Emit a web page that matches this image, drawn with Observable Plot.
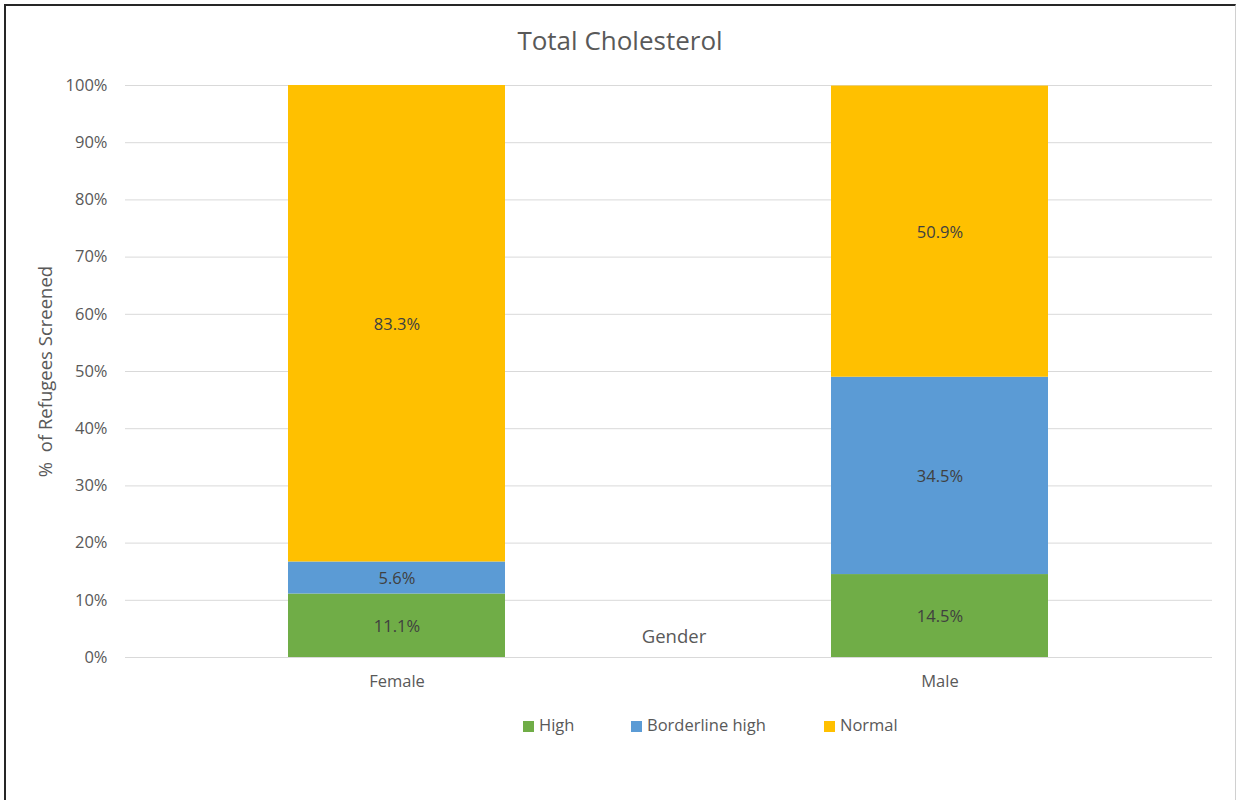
<!DOCTYPE html>
<html>
<head>
<meta charset="utf-8">
<script src="https://cdn.jsdelivr.net/npm/d3@7"></script>
<script src="https://cdn.jsdelivr.net/npm/@observablehq/plot@0.6"></script>
<style>
  html, body { margin: 0; padding: 0; background: #fff; }
  #chart { position: relative; width: 1236px; height: 800px; overflow: hidden; font-family: "Open Sans", sans-serif; color: #595959; }
  #chart svg { position: absolute; left: 0; top: 0; }
  #frame { position: absolute; left: 4px; top: 4px; width: 1229px; height: 820px;
           border-left: 2px solid #262626; border-top: 2px solid #262626; border-right: 1px solid #d0d0d0; pointer-events: none; }
  #title { position: absolute; left: 0; top: 21px; width: 1240px; text-align: center; font-size: 26px; line-height: 38px; color: #595959; }
  #legend { position: absolute; top: 714px; left: 0; width: 1236px; font-size: 16.5px; }
  .item { position: absolute; top: 0; white-space: nowrap; line-height: 22px; }
  .sw { display: inline-block; width: 11px; height: 11px; margin-right: 5px; vertical-align: -1px; }
</style>
</head>
<body>
<div id="chart">
  <div id="title">Total Cholesterol</div>
  <div id="legend"></div>
  <div id="frame"></div>
</div>
<script>
// Share of refugees screened by total cholesterol level, by gender (%)
const genders = ["Female", "Male"];
const levels = ["High", "Borderline high", "Normal"];
const colors = ["#70AD47", "#5B9BD5", "#FFC000"];
const high = [11.1, 14.5];
const borderline = [5.6, 34.5];
const normal = [83.3, 50.9];
const yTicks = [0, 10, 20, 30, 40, 50, 60, 70, 80, 90, 100];

const series = [high, borderline, normal];
const rows = [];
genders.forEach((g, i) => {
  levels.forEach((lv, j) => rows.push({gender: g, level: lv, value: series[j][i]}));
});

const plot = Plot.plot({
  width: 1236,
  height: 800,
  marginLeft: 125,
  marginRight: 24,
  marginTop: 85,
  marginBottom: 143,
  style: {fontFamily: "'Open Sans', sans-serif", fontSize: "16px", color: "#595959", background: "transparent"},
  x: {domain: genders, paddingInner: 0.6, paddingOuter: 0.3, label: null},
  y: {domain: [0, 100], label: null},
  color: {domain: levels, range: colors},
  marks: [
    Plot.gridY(yTicks, {stroke: "#d9d9d9", strokeOpacity: 1, strokeWidth: 1}),
    Plot.barY(rows, Plot.stackY({x: "gender", y: "value", z: "level", fill: "level", order: levels})),
    Plot.text(rows, Plot.stackY({x: "gender", y: "value", z: "level", order: levels,
      text: d => d.value.toFixed(1) + "%", fill: "#404040", fontSize: 16.5, dy: 1})),
    Plot.axisY(yTicks, {tickSize: 0, tickPadding: 18, tickFormat: d => d + "%", fontSize: 16.5}),
    Plot.axisX({tickSize: 0, tickPadding: 18, fontSize: 16.5}),
    Plot.text(["Gender"], {frameAnchor: "bottom", dx: 5, dy: -15, fontSize: 18.5, fill: "#595959"}),
    Plot.text(["%  of Refugees Screened"], {frameAnchor: "left", textAnchor: "middle", dx: -79, rotate: -90, fontSize: 18.5, fill: "#595959"})
  ]
});
document.getElementById("chart").prepend(plot);

// legend entries
const legend = document.getElementById("legend");
const legendX = [523, 631, 824];
levels.forEach((lv, j) => {
  const item = document.createElement("div");
  item.className = "item";
  item.style.left = legendX[j] + "px";
  item.innerHTML = `<span class="sw" style="background:${colors[j]}"></span>${lv}`;
  legend.appendChild(item);
});
</script>
</body>
</html>
